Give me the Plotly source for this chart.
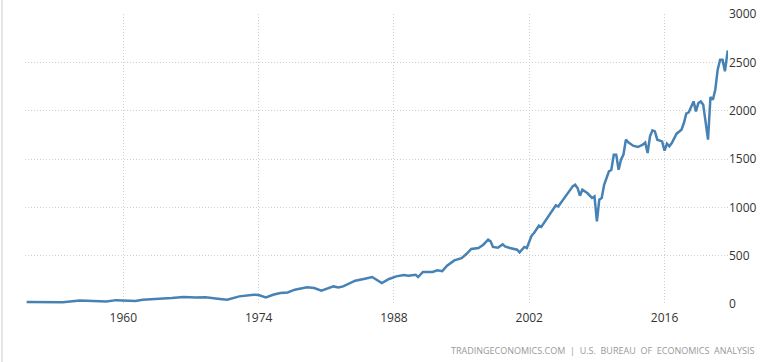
import plotly.graph_objects as go

dates = [
    "1950-01-01", "1951-07-01", "1953-10-01", "1955-07-01", "1957-01-01", "1958-04-01",
    "1959-04-01", "1960-07-01", "1961-04-01", "1962-01-01", "1963-10-01", "1965-01-01",
    "1966-04-01", "1967-07-01", "1968-07-01", "1969-07-01", "1970-01-01", "1970-10-01",
    "1972-01-01", "1973-07-01", "1974-01-01", "1974-10-01", "1975-07-01", "1976-04-01",
    "1977-01-01", "1977-10-01", "1979-01-01", "1979-10-01", "1980-07-01", "1981-10-01",
    "1982-04-01", "1982-10-01", "1984-01-01", "1985-01-01", "1985-10-01", "1986-10-01",
    "1987-07-01", "1988-04-01", "1989-01-01", "1989-07-01", "1990-04-01", "1990-07-01",
    "1991-01-01", "1992-01-01", "1992-07-01", "1993-01-01", "1993-07-01", "1994-04-01",
    "1995-01-01", "1995-07-01", "1996-01-01", "1996-10-01", "1997-04-01", "1997-10-01",
    "1998-01-01", "1998-04-01", "1998-10-01", "1999-04-01", "1999-07-01", "2000-01-01",
    "2000-10-01", "2001-01-01", "2001-07-01", "2001-10-01", "2002-04-01", "2002-07-01",
    "2003-01-01", "2003-04-01", "2003-10-01", "2004-07-01", "2004-10-01", "2005-01-01",
    "2005-07-01", "2006-01-01", "2006-07-01", "2006-10-01", "2007-01-01", "2007-04-01",
    "2007-07-01", "2008-01-01", "2008-07-01", "2008-10-01", "2009-01-01", "2009-04-01",
    "2009-07-01", "2009-10-01", "2010-04-01", "2010-07-01", "2010-10-01", "2011-01-01",
    "2011-04-01", "2011-07-01", "2011-10-01", "2012-01-01", "2012-04-01", "2012-10-01",
    "2013-04-01", "2013-10-01", "2014-01-01", "2014-04-01", "2014-07-01", "2014-10-01",
    "2015-01-01", "2015-04-01", "2015-10-01", "2016-01-01", "2016-04-01", "2016-07-01",
    "2016-10-01", "2017-04-01", "2017-10-01", "2018-01-01", "2018-04-01", "2018-07-01",
    "2019-01-01", "2019-04-01", "2019-07-01", "2019-10-01", "2020-01-01", "2020-07-01",
    "2020-10-01", "2021-01-01", "2021-04-01", "2021-07-01", "2021-10-01", "2022-01-01",
    "2022-04-01", "2022-07-15",
]
profits = [
    21, 22, 18, 35, 32, 27,
    40, 36, 30, 45, 52, 62,
    72, 66, 70, 62, 52, 44,
    79, 96, 93, 68, 95, 113,
    120, 148, 172, 165, 138, 182,
    172, 182, 241, 262, 279, 217,
    259, 286, 300, 293, 303, 279,
    331, 331, 348, 340, 396, 451,
    475, 517, 569, 579, 613, 665,
    648, 590, 582, 617, 596, 579,
    562, 534, 590, 579, 707, 734,
    810, 797, 872, 993, 1020, 1010,
    1079, 1148, 1217, 1234, 1200, 1120,
    1182, 1148, 1097, 1113, 855, 1079,
    1097, 1234, 1372, 1389, 1545, 1545,
    1389, 1493, 1545, 1700, 1672, 1638,
    1624, 1648, 1670, 1562, 1734, 1796,
    1786, 1700, 1682, 1586, 1658, 1631,
    1665, 1762, 1803, 1872, 1969, 1982,
    2096, 1993, 2079, 2096, 2062, 1700,
    2141, 2113, 2217, 2424, 2527, 2527,
    2407, 2624,
]
x_ticks = ["1960-01-01", "1974-01-01", "1988-01-01", "2002-01-01", "2016-01-01"]
x_tick_labels = ["1960", "1974", "1988", "2002", "2016"]
y_ticks = [0, 500, 1000, 1500, 2000, 2500, 3000]
source_text = "TRADINGECONOMICS.COM  |  U.S.  BUREAU  OF  ECONOMICS  ANALYSIS"

fig = go.Figure()
fig.add_trace(go.Scatter(
    x=dates, y=profits, mode="lines",
    line=dict(color="#4682b4", width=2.5),
    hoverinfo="x+y",
))

grid = dict(showgrid=True, gridcolor="#cfcfcf", gridwidth=1, griddash="1px,2px")
fig.update_layout(
    width=780, height=362,
    margin=dict(l=25, r=52, t=14, b=58, autoexpand=False),
    paper_bgcolor="white", plot_bgcolor="white",
    showlegend=False,
    font=dict(family="Open Sans", size=12, color="#333333"),
    xaxis=dict(
        type="date", automargin=False,
        range=["1949-10-30", "2022-07-26"],
        tickvals=x_ticks, ticktext=x_tick_labels,
        showline=False, zeroline=False, ticks="",
        ticklabelstandoff=5,
        tickfont=dict(size=12, color="#333333"),
        **grid,
    ),
    yaxis=dict(
        side="right", automargin=False,
        range=[0, 3000],
        tickvals=y_ticks,
        showline=False, zeroline=False, ticks="",
        tickfont=dict(size=12, color="#333333"),
        **grid,
    ),
    annotations=[dict(
        text=source_text, xref="paper", yref="paper",
        x=(756 - 25) / 703, y=-(350 - 304) / 290,
        xanchor="right", yanchor="middle", showarrow=False,
        font=dict(family="Open Sans", size=9, color="#999999"),
    )],
    shapes=[dict(
        type="line", xref="paper", yref="paper",
        x0=-23 / 703, x1=-23 / 703, y0=-58 / 290, y1=1 + 14 / 290,
        line=dict(color="#e6e6e6", width=2),
    )],
)

fig.write_html("out.html", config={"displayModeBar": False},
               post_script="document.body.style.margin='0';")
